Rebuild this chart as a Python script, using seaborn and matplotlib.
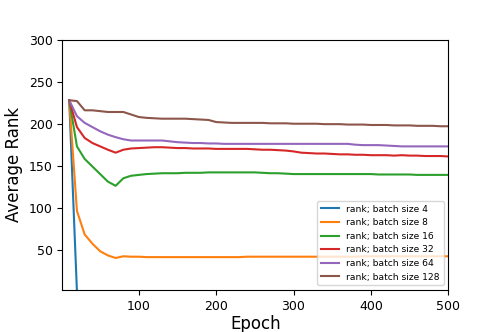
import numpy as np
import pandas as pd
import seaborn as sns
import matplotlib.pyplot as plt

epochs = list(range(10, 501, 10))

# average rank, one value per 10 epochs
rank_bs4 = [228] + [0] * 49
rank_bs8 = [228, 96, 68, 57, 48, 43, 40, 42, 41.5, 41.5,
            41, 41, 41, 41, 41, 41, 41, 41, 41, 41,
            41, 41, 41, 41.5, 41.5, 41.5, 41.5, 41.5, 41.5, 41.5,
            41.5, 41.5, 41.5, 41.5, 41.5, 41.5, 41.5, 41.5, 42, 42,
            42, 42, 42, 42, 42, 42, 42, 42, 42, 42]
rank_bs16 = [228, 173, 158, 149, 140, 131, 126, 135, 138, 139,
             140, 140.5, 141, 141, 141, 141.5, 141.5, 141.5, 142, 142,
             142, 142, 142, 142, 142, 141.5, 141, 141, 140.5, 140,
             140, 140, 140, 140, 140, 140, 140, 140, 140, 140,
             139.5, 139.5, 139.5, 139.5, 139.5, 139, 139, 139, 139, 139]
rank_bs32 = [228, 196, 183, 177, 173, 169, 165.5, 169, 170.5, 171,
             171.5, 172, 172, 171.5, 171, 171, 170.5, 170.5, 170.5, 170,
             170, 170, 170, 170, 169.5, 169, 169, 168.5, 168, 167,
             165.5, 165, 164.5, 164.5, 164, 163.5, 163.5, 163, 163, 162.5,
             162.5, 162.5, 162, 162.5, 162, 162, 161.5, 161.5, 161.5, 161]
rank_bs64 = [228, 209, 201, 196, 191, 187, 184, 181.5, 180, 180,
             180, 180, 180, 179, 178, 177.5, 177, 177, 176.5, 176.5,
             176, 176, 176, 176, 176, 176, 176, 176, 176, 176,
             176, 176, 176, 176, 176, 176, 176, 175, 174.5, 174.5,
             174.5, 174, 173.5, 173, 173, 173, 173, 173, 173, 173]
rank_bs128 = [228, 227, 216, 216, 215, 214, 214, 214, 211, 208,
              207, 206.5, 206, 206, 206, 206, 205.5, 205, 204.5, 202,
              201.5, 201, 201, 201, 201, 201, 200.5, 200.5, 200.5, 200,
              200, 200, 200, 199.5, 199.5, 199.5, 199, 199, 199, 198.5,
              198.5, 198.5, 198, 198, 198, 197.5, 197.5, 197.5, 197, 197]

batch_sizes = [4, 8, 16, 32, 64, 128]
series = [rank_bs4, rank_bs8, rank_bs16, rank_bs32, rank_bs64, rank_bs128]

frames = []
for bs, vals in zip(batch_sizes, series):
    frames.append(pd.DataFrame({'Epoch': epochs, 'rank': vals,
                                'run': f'rank; batch size {bs}'}))
df = pd.concat(frames, ignore_index=True)

fig, ax = plt.subplots(figsize=(4.98, 3.32), dpi=100)
fig.subplots_adjust(left=0.125, right=0.9, bottom=0.127, top=0.88)
sns.lineplot(data=df, x='Epoch', y='rank', hue='run', palette='tab10', ax=ax)

ax.set_xlim(1, 500)
ax.set_ylim(2, 300)
ax.set_xlabel('Epoch', fontsize=12, labelpad=2)
ax.set_ylabel('Average Rank', fontsize=12)
ax.tick_params(labelsize=9)
ax.legend(loc='lower right', fontsize=6.6, title=None)

plt.savefig('out.png', dpi=100)
